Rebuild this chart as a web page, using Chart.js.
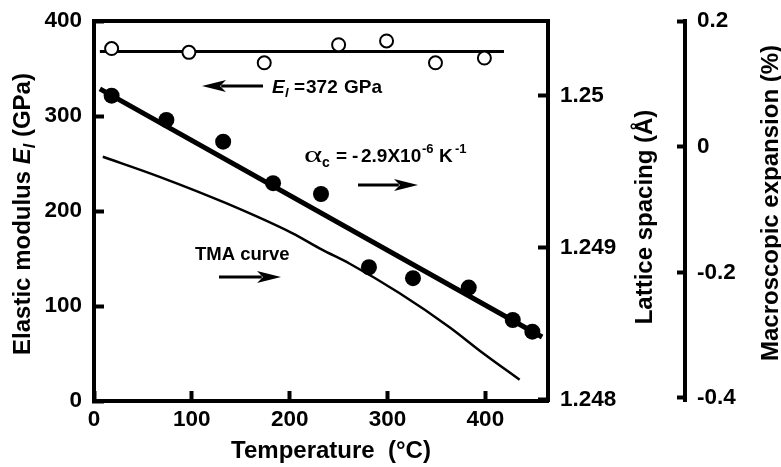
<!DOCTYPE html>
<html>
<head>
<meta charset="utf-8">
<script src="https://cdn.jsdelivr.net/npm/chart.js@4/dist/chart.umd.min.js"></script>
<style>
  html, body { margin: 0; padding: 0; background: #fff; }
  #wrap { width: 781px; height: 467px; }
</style>
</head>
<body>
<div id="wrap"><canvas id="c" width="781" height="467"></canvas></div>
<script>
// ---------- data ----------
const tempModulus = [18, 97, 174, 250, 299, 349, 399];
const modulusValues = [371, 367, 356, 375, 379, 356, 361];
const modulusFitTemp = [6, 419];
const modulusFitValues = [368, 368];

const tempLattice = [18, 74, 132, 183, 232, 281, 326, 383, 428, 448];
const latticeValues = [1.250002, 1.249842, 1.249699, 1.249426, 1.249355, 1.248873, 1.248801, 1.248739, 1.248526, 1.248449];
const latticeFitTemp = [6, 458];
const latticeFitValues = [1.250046, 1.248414];

const tempTMA = [9, 67, 135, 203, 233, 261, 312, 363, 397, 435];
const expansionTMA = [-0.016, -0.048, -0.090, -0.138, -0.164, -0.186, -0.233, -0.287, -0.328, -0.371];

const tempTicks = [0, 100, 200, 300, 400];
const modulusTicks = [0, 100, 200, 300, 400];
const latticeTicks = [1.248, 1.249, 1.25];
const latticeTickLabels = ['1.248', '1.249', '1.25'];
const expansionTicks = [-0.4, -0.2, 0, 0.2];
const expansionTickLabels = ['-0.4', '-0.2', '0', '0.2'];

// ---------- helpers ----------
const FAM = '"Liberation Sans", Arial, Helvetica, sans-serif';
const pts = (xs, ys) => xs.map((x, i) => ({ x: x, y: ys[i] }));

function drawRuns(ctx, runs, x, y, align) {
  let total = 0;
  runs.forEach(r => { ctx.font = r.f; total += ctx.measureText(r.t).width; });
  let cx = align === 'center' ? x - total / 2 : x;
  ctx.textBaseline = 'alphabetic';
  ctx.textAlign = 'left';
  runs.forEach(r => {
    ctx.font = r.f;
    ctx.fillText(r.t, cx, y + (r.dy || 0));
    cx += ctx.measureText(r.t).width;
  });
}
// runs placed at given x positions (optional horizontal stretch sx)
function drawPlaced(ctx, runs, y) {
  ctx.textBaseline = 'alphabetic';
  ctx.textAlign = 'left';
  runs.forEach(r => {
    ctx.save();
    ctx.font = r.f;
    ctx.translate(r.x, y + (r.dy || 0));
    ctx.scale(r.sx || 1, 1);
    ctx.fillText(r.t, 0, 0);
    ctx.restore();
  });
}
function arrow(ctx, x1, y, x2, head, half, lw) {
  const dir = Math.sign(x2 - x1);
  ctx.save();
  ctx.strokeStyle = '#000'; ctx.fillStyle = '#000'; ctx.lineWidth = lw;
  ctx.beginPath(); ctx.moveTo(x1, y); ctx.lineTo(x2 - dir * head * 0.8, y); ctx.stroke();
  ctx.beginPath();
  ctx.moveTo(x2, y);
  ctx.lineTo(x2 - dir * head, y - half);
  ctx.lineTo(x2 - dir * head * 0.75, y);
  ctx.lineTo(x2 - dir * head, y + half);
  ctx.closePath(); ctx.fill();
  ctx.restore();
}

const textPlugin = {
  id: 'texts',
  afterDraw(chart) {
    const ctx = chart.ctx;
    ctx.save();
    ctx.fillStyle = '#000';
    const B24 = 'bold 24px ' + FAM;
    // left title
    ctx.save();
    ctx.translate(30, 214);
    ctx.rotate(-Math.PI / 2);
    drawRuns(ctx, [
      { t: 'Elastic modulus ', f: B24 },
      { t: 'E', f: 'italic bold 24px ' + FAM },
      { t: 'l', f: 'italic bold 16px ' + FAM, dy: 5 },
      { t: ' (GPa)', f: B24 }
    ], 0, 0, 'center');
    ctx.restore();
    // lattice title
    ctx.save();
    ctx.translate(652, 217);
    ctx.rotate(-Math.PI / 2);
    drawRuns(ctx, [{ t: 'Lattice spacing (Å)', f: B24 }], 0, 0, 'center');
    ctx.restore();
    // macroscopic title
    ctx.save();
    ctx.translate(778, 203);
    ctx.rotate(-Math.PI / 2);
    drawRuns(ctx, [{ t: 'Macroscopic expansion (%)', f: B24 }], 0, 0, 'center');
    ctx.restore();
    // x title
    drawRuns(ctx, [{ t: 'Temperature  (°C)', f: B24 }], 331, 458, 'center');

    // annotations
    const B19 = 'bold 19px ' + FAM;
    const SUP = 'bold 13px ' + FAM;
    arrow(ctx, 263, 86, 202, 24, 6, 3);
    drawPlaced(ctx, [
      { t: 'E', f: 'italic bold 19px ' + FAM, x: 272 },
      { t: 'l', f: 'italic bold 13px ' + FAM, x: 285, dy: 4 },
      { t: '=', f: B19, x: 294 },
      { t: '372', f: B19, x: 306 },
      { t: 'GPa', f: B19, x: 344 }
    ], 93);

    drawPlaced(ctx, [
      { t: 'α', f: '24px "Liberation Serif", serif', x: 304, sx: 1.45 },
      { t: 'c', f: 'bold 14px ' + FAM, x: 322, dy: 5 },
      { t: '=', f: B19, x: 336 },
      { t: '-', f: B19, x: 352 },
      { t: '2.9X10', f: B19, x: 361 },
      { t: '-6', f: SUP, x: 422, dy: -9 },
      { t: 'K', f: B19, x: 439 },
      { t: '-1', f: SUP, x: 455, dy: -9 }
    ], 162);
    arrow(ctx, 358, 185, 418, 24, 6, 3);

    drawRuns(ctx, [{ t: 'TMA curve', f: 'bold 18.5px ' + FAM }], 195, 260, 'left');
    arrow(ctx, 219, 277, 281, 24, 6, 3);
    ctx.restore();
  }
};

const axisBorder = { display: true, width: 4, color: '#000' };
const tickFont = { family: FAM, size: 22.5, weight: 'bold' };
function fixWidth(w) {
  return s => { s.width = w; s.paddingTop = 0; s.paddingBottom = 0; };
}

const chart = new Chart(document.getElementById('c'), {
  type: 'scatter',
  data: {
    datasets: [
      {
        label: 'E open', data: pts(tempModulus, modulusValues), yAxisID: 'y', xAxisID: 'x',
        pointRadius: 6.5, pointBackgroundColor: '#fff', pointBorderColor: '#000', pointBorderWidth: 2,
        showLine: false
      },
      {
        label: 'lattice', data: pts(tempLattice, latticeValues), yAxisID: 'y1', xAxisID: 'x',
        pointRadius: 8, pointBackgroundColor: '#000', pointBorderColor: '#000', pointBorderWidth: 0,
        showLine: false
      },
      {
        label: 'E fit', data: pts(modulusFitTemp, modulusFitValues), yAxisID: 'y', xAxisID: 'x',
        showLine: true, pointRadius: 0, borderColor: '#000', borderWidth: 3
      },
      {
        label: 'lattice fit', data: pts(latticeFitTemp, latticeFitValues), yAxisID: 'y1', xAxisID: 'x',
        showLine: true, pointRadius: 0, borderColor: '#000', borderWidth: 5
      },
      {
        label: 'TMA', data: pts(tempTMA, expansionTMA), yAxisID: 'y2', xAxisID: 'x',
        showLine: true, pointRadius: 0, borderColor: '#000', borderWidth: 2.5,
        cubicInterpolationMode: 'monotone'
      }
    ]
  },
  options: {
    responsive: false,
    animation: false,
    devicePixelRatio: 1,
    layout: { padding: 0 },
    plugins: { legend: { display: false }, tooltip: { enabled: false }, title: { display: false } },
    scales: {
      x: {
        type: 'linear', position: 'bottom', min: 0, max: 464,
        afterBuildTicks: s => { s.ticks = tempTicks.map(v => ({ value: v })); },
        afterFit: s => { s.height = 66; },
        ticks: { font: tickFont, color: '#000', padding: 15, maxRotation: 0, autoSkip: false },
        grid: { drawOnChartArea: false, drawTicks: true, tickLength: -10, tickWidth: 4, tickColor: '#000' },
        border: axisBorder
      },
      xTop: {
        type: 'linear', position: 'top', min: 0, max: 464,
        afterFit: s => { s.height = 21; },
        ticks: { display: false },
        grid: { drawOnChartArea: false, drawTicks: false },
        border: axisBorder
      },
      y: {
        type: 'linear', position: 'left', min: 0, max: 400,
        afterBuildTicks: s => { s.ticks = modulusTicks.map(v => ({ value: v })); },
        afterFit: fixWidth(94),
        ticks: { font: tickFont, color: '#000', padding: 22 },
        grid: { drawOnChartArea: false, drawTicks: true, tickLength: -10, tickWidth: 4, tickColor: '#000' },
        border: axisBorder
      },
      y1: {
        type: 'linear', position: 'right', weight: 0, min: 1.247993, max: 1.250493,
        afterBuildTicks: s => { s.ticks = latticeTicks.map(v => ({ value: v })); },
        afterFit: fixWidth(137),
        ticks: { font: tickFont, color: '#000', padding: 22, callback: (v, i) => latticeTickLabels[i] },
        grid: { drawOnChartArea: false, drawTicks: true, tickLength: -10, tickWidth: 4, tickColor: '#000' },
        border: axisBorder
      },
      y2: {
        type: 'linear', position: 'right', weight: 1, min: -0.4048, max: 0.2,
        afterBuildTicks: s => { s.ticks = expansionTicks.map(v => ({ value: v })); },
        afterFit: fixWidth(96),
        ticks: { font: tickFont, color: '#000', padding: 20, callback: (v, i) => expansionTickLabels[i] },
        grid: { drawOnChartArea: false, drawTicks: true, tickLength: -8, tickWidth: 4, tickColor: '#000' },
        border: axisBorder
      }
    }
  },
  plugins: [textPlugin]
});
</script>
</body>
</html>
